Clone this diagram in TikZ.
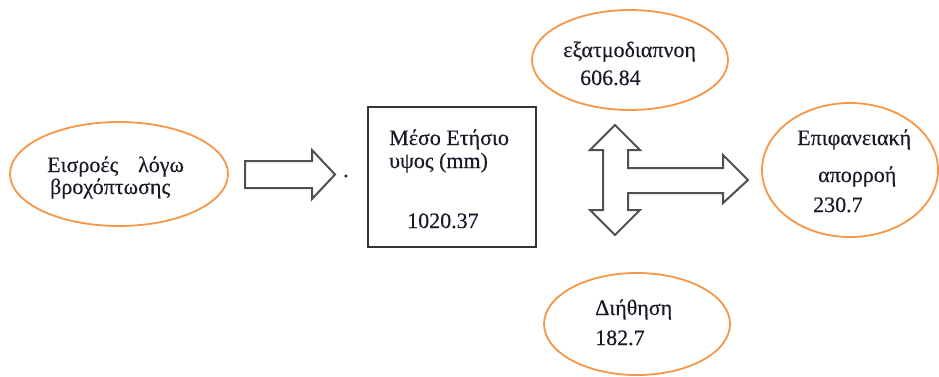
\documentclass[tikz,border=0pt]{standalone}
\usepackage{fontspec}
\setmainfont{Liberation Serif}[FakeBold=0.4]
\usetikzlibrary{shapes.geometric}
\definecolor{ellorange}{RGB}{247,150,70}
\definecolor{arrgray}{RGB}{80,80,80}
\definecolor{txt}{RGB}{25,25,40}
\tikzset{
  oval/.style={ellipse, draw=ellorange, line width=1.8pt, inner sep=0pt},
  lbl/.style={anchor=base west, inner sep=0pt, text=txt, font=\fontsize{22}{26}\selectfont},
  blockarrow/.style={draw=arrgray, line width=2pt, line join=miter, fill=white},
  mainbox/.style={draw=black!80, line width=2pt, inner sep=0pt}
}
\begin{document}
\begin{tikzpicture}[x=1pt,y=-1pt]
\useasboundingbox (0,0) rectangle (939,376);
% ellipses
\node[oval, minimum width=218pt, minimum height=104pt] (inflow) at (119,174) {};
\node[oval, minimum width=196pt, minimum height=100pt] (evap) at (630,60) {};
\node[oval, minimum width=176pt, minimum height=134pt] (runoff) at (850,170) {};
\node[oval, minimum width=186pt, minimum height=102pt] (infil) at (637,324) {};
% box
\node[mainbox, minimum width=168pt, minimum height=140pt] (box) at (452,177) {};
% left block arrow
\draw[blockarrow] (245,161) -- (312,161) -- (312,150) -- (335,174.5) -- (312,199) -- (312,188) -- (245,188) -- cycle;
% cross block arrow
\draw[blockarrow] (615,125) -- (640,150) -- (628,150) -- (628,168) -- (723,168) -- (723,155) -- (748,180)
  -- (723,203) -- (723,193) -- (628,193) -- (628,210) -- (640,210) -- (615,235) -- (590,210)
  -- (603,210) -- (603,150) -- (590,150) -- cycle;
% texts
\node[lbl] (t1) at (47,172) {Εισροές\hspace{0.9em}λόγω};
\node[lbl] (t2) at (50,194) {βροχόπτωσης};
\node[lbl] (dot) at (343,177) {.};
\node[lbl] (b1) at (389,145) {Μέσο Ετήσιο};
\node[lbl] (b2) at (389,168) {υψος (mm)};
\node[lbl] (b3) at (407,228) {1020.37};
\node[lbl] (e1) at (563,57) {εξατμοδιαπνοη};
\node[lbl] (e2) at (580,85) {606.84};
\node[lbl] (r1) at (797,145) {Επιφανειακή};
\node[lbl] (r2) at (818,182) {απορροή};
\node[lbl] (r3) at (813,212) {230.7};
\node[lbl] (d1) at (595,315) {Διήθηση};
\node[lbl] (d2) at (595,345) {182.7};
\end{tikzpicture}
\end{document}
